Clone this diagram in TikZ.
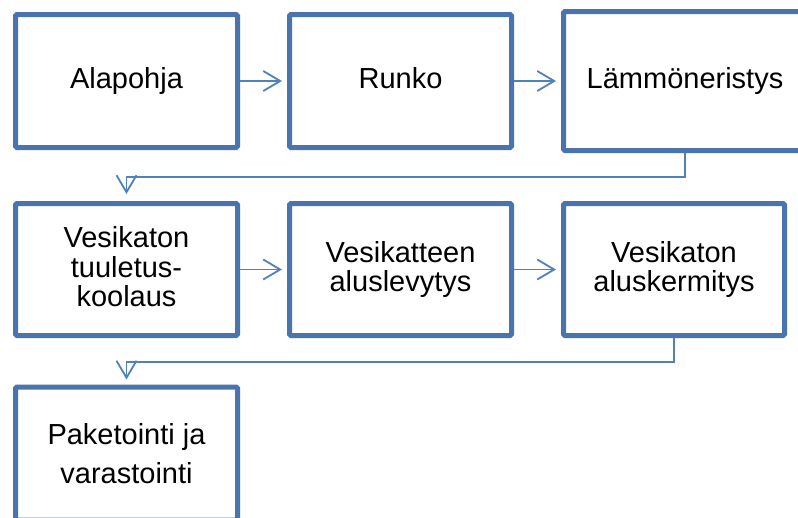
\documentclass[tikz,border=0pt]{standalone}
\usepackage{fontspec}
\setmainfont{Liberation Sans}
\usetikzlibrary{arrows.meta}
\definecolor{boxblue}{RGB}{74,117,172}
\definecolor{linkblue}{RGB}{79,129,189}
\begin{document}
\begin{tikzpicture}[x=1pt,y=-1pt,
  stepbox/.style={draw=boxblue, line width=5pt, outer sep=2.5pt, rounded corners=1.5pt,
    fill=white, align=center, inner sep=0pt,
    minimum width=222pt, minimum height=133pt,
    font=\fontsize{29}{29.5}\selectfont},
  link/.style={draw=linkblue, line width=1.8pt,
    -{Straight Barb[length=17pt,width=20pt,line width=1.8pt]}}
]
\clip (0,0) rectangle (798,517);
\fill[white] (0,0) rectangle (798,517);

% first row
\node[stepbox] (b1) at (126.5,81) {Alapohja};
\node[stepbox] (b2) at (400.5,81) {Runko\vphantom{j}};
\node[stepbox, minimum width=243pt, minimum height=139pt] (b3) at (685,81) {Lämmöneristys};

% second row
\node[stepbox, minimum height=132pt] (b4) at (126.5,269.5) {Vesikaton\\tuuletus-\\koolaus\vphantom{y}};
\node[stepbox, minimum height=132pt] (b5) at (400.5,269.5) {Vesikatteen\\aluslevytys};
\node[stepbox, minimum width=221pt, minimum height=132pt] (b6) at (674,269.5) {Vesikaton\\aluskermitys};

% third row
\node[stepbox, font=\fontsize{29}{39}\selectfont] (b7) at (126.5,453.5) {Paketointi ja\\varastointi};

% connectors
\draw[link, shorten >=5pt] (b1.east) -- (b2.west);
\draw[link, shorten >=5pt] (b2.east) -- (b3.west);
\draw[link, shorten >=5pt] (b4.east) -- (b5.west);
\draw[link, shorten >=5pt] (b5.east) -- (b6.west);
\draw[link, shorten >=7pt] (b3.south) -- ++(0,24) -| (b4.north);
\draw[link, shorten >=5pt] (b6.south) -- ++(0,24) -| (b7.north);
\end{tikzpicture}
\end{document}
